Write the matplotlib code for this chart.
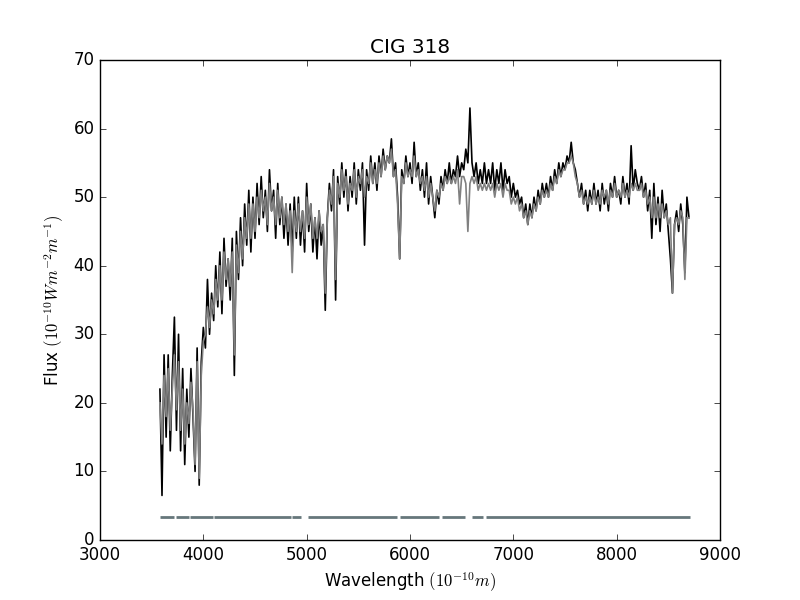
import matplotlib
matplotlib.use("Agg")
import matplotlib.pyplot as plt

# wavelength grid (Angstrom) in 20 A steps
wavelength = [
    3580, 3600, 3620, 3640, 3660, 3680, 3700, 3720, 3740, 3760,
    3780, 3800, 3820, 3840, 3860, 3880, 3900, 3920, 3940, 3960,
    3980, 4000, 4020, 4040, 4060, 4080, 4100, 4120, 4140, 4160,
    4180, 4200, 4220, 4240, 4260, 4280, 4300, 4320, 4340, 4360,
    4380, 4400, 4420, 4440, 4460, 4480, 4500, 4520, 4540, 4560,
    4580, 4600, 4620, 4640, 4660, 4680, 4700, 4720, 4740, 4760,
    4780, 4800, 4820, 4840, 4860, 4880, 4900, 4920, 4940, 4960,
    4980, 5000, 5020, 5040, 5060, 5080, 5100, 5120, 5140, 5160,
    5180, 5200, 5220, 5240, 5260, 5280, 5300, 5320, 5340, 5360,
    5380, 5400, 5420, 5440, 5460, 5480, 5500, 5520, 5540, 5560,
    5580, 5600, 5620, 5640, 5660, 5680, 5700, 5720, 5740, 5760,
    5780, 5800, 5820, 5840, 5860, 5880, 5900, 5920, 5940, 5960,
    5980, 6000, 6020, 6040, 6060, 6080, 6100, 6120, 6140, 6160,
    6180, 6200, 6220, 6240, 6260, 6280, 6300, 6320, 6340, 6360,
    6380, 6400, 6420, 6440, 6460, 6480, 6500, 6520, 6540, 6560,
    6580, 6600, 6620, 6640, 6660, 6680, 6700, 6720, 6740, 6760,
    6780, 6800, 6820, 6840, 6860, 6880, 6900, 6920, 6940, 6960,
    6980, 7000, 7020, 7040, 7060, 7080, 7100, 7120, 7140, 7160,
    7180, 7200, 7220, 7240, 7260, 7280, 7300, 7320, 7340, 7360,
    7380, 7400, 7420, 7440, 7460, 7480, 7500, 7520, 7540, 7560,
    7580, 7600, 7620, 7640, 7660, 7680, 7700, 7720, 7740, 7760,
    7780, 7800, 7820, 7840, 7860, 7880, 7900, 7920, 7940, 7960,
    7980, 8000, 8020, 8040, 8060, 8080, 8100, 8120, 8140, 8160,
    8180, 8200, 8220, 8240, 8260, 8280, 8300, 8320, 8340, 8360,
    8380, 8400, 8420, 8440, 8460, 8480, 8500, 8520, 8540, 8560,
    8580, 8600, 8620, 8640, 8660, 8680, 8700,
]

# observed flux (black)
flux_obs = [
    22, 6.5, 27, 15, 27, 13, 24, 32.5, 16, 30,
    13, 25, 11, 22, 15, 25, 18, 10, 28, 8,
    26, 31, 28, 38, 30, 36, 32, 40, 34, 42,
    33, 44, 37, 41, 35, 44, 24, 45, 38, 47,
    40, 49, 43, 51, 42, 50, 44, 52, 46, 53,
    47, 51, 45, 54, 48, 51, 44, 52, 46, 50,
    44, 49, 43, 49, 42, 50, 44, 50, 43, 48,
    42, 52, 45, 49, 42, 47, 41, 48, 43, 46,
    33.5, 47, 52, 48, 54, 35, 53, 49, 55, 50,
    54, 48, 53, 50, 55, 49, 54, 51, 55, 43,
    54, 51, 56, 52, 55, 51, 56, 53, 57, 54,
    56, 55, 58.5, 53, 55, 50, 41, 54, 52, 56,
    53, 55, 52, 58, 53, 55, 51, 54, 50, 55,
    49, 53, 50, 47, 51, 49, 53, 51, 54, 52,
    55, 52, 54, 53, 56, 53, 55, 54, 57, 55,
    63, 55, 53, 55, 52, 54, 52, 55, 52, 54,
    52, 55, 51, 54, 52, 55, 51, 54, 52, 53,
    50, 52, 50, 51, 49, 50, 47, 49, 46, 49,
    47, 50, 48, 51, 49, 52, 50, 52, 50, 53,
    51, 54, 52, 55, 53, 55, 54, 56, 55, 58,
    55, 54, 52, 50, 52, 49, 51, 48, 51, 49,
    52, 49, 51, 48, 52, 49, 51, 48, 52, 50,
    53, 50, 51, 49, 53, 50, 52, 49, 57.5, 51,
    54, 52, 51, 53, 50, 52, 48, 51, 44, 52,
    46, 50, 45, 51, 47, 49, 45, 41, 36, 46,
    48, 45, 49, 46, 39, 50, 47,
]

# synthetic / model flux (grey)
flux_model = [
    20, 14, 24, 18, 25, 16, 22, 27, 19, 26,
    16, 22, 14, 20, 17, 23, 19, 11, 26, 9,
    24, 29, 30, 34, 31, 35, 33, 38, 35, 40,
    35, 42, 38, 41, 37, 42, 27, 43, 39, 45,
    41, 47, 44, 49, 44, 49, 45, 50, 47, 51,
    48, 50, 46, 52, 48, 50, 46, 51, 47, 50,
    46, 49, 45, 48, 39, 48, 45, 49, 45, 48,
    44, 50, 46, 49, 44, 47, 44, 48, 45, 46,
    36, 47, 51, 49, 53, 38, 52, 50, 54, 51,
    53, 49, 52, 51, 54, 50, 53, 52, 54, 50,
    53, 52, 55, 52, 54, 52, 55, 53, 56, 54,
    56, 55, 57, 53, 54, 49, 41, 53, 52, 55,
    53, 54, 53, 56, 53, 54, 52, 53, 51, 53,
    50, 52, 50, 48, 51, 50, 52, 51, 53, 52,
    53, 52, 53, 52, 54, 49, 53, 53, 52, 45,
    52, 53, 52, 53, 51, 52, 51, 52, 51, 52,
    51, 52, 50, 52, 51, 52, 50, 52, 51, 51,
    49, 50, 49, 50, 48, 49, 47, 48, 46, 48,
    47, 49, 48, 50, 49, 51, 50, 51, 50, 52,
    51, 53, 52, 54, 53, 54, 54, 55, 55, 56,
    55, 53, 52, 50, 51, 49, 50, 49, 50, 49,
    51, 49, 50, 49, 51, 50, 51, 49, 51, 50,
    52, 50, 51, 50, 52, 50, 51, 50, 52, 51,
    52, 51, 51, 52, 50, 51, 49, 50, 47, 50,
    47, 49, 47, 49, 47, 48, 46, 47, 36, 46,
    47, 46, 48, 47, 38, 47, 47,
]

# fitted wavelength ranges drawn as a strip near the bottom
mask_start = [3583, 3734, 3870, 4103, 4854, 5015, 5902, 6306, 6600, 6732]
mask_end = [3716, 3859, 4092, 4846, 4943, 5873, 6285, 6532, 6704, 8707]
mask_level = 3.3

plt.style.use("classic")
fig = plt.figure(figsize=(8, 6), dpi=100)
ax = fig.add_subplot(111)

ax.plot(wavelength, flux_obs, color="k", lw=1.2)
ax.plot(wavelength, flux_model, color="0.5", lw=1.2)
for a, b in zip(mask_start, mask_end):
    ax.plot([a, b], [mask_level, mask_level], color="#66777b", lw=2,
            solid_capstyle="butt")

ax.set_xlim(3000, 9000)
ax.set_ylim(0, 70)
ax.set_title("CIG 318")
ax.set_xlabel(r"Wavelength $(10^{-10} m)$")
ax.set_ylabel(r"Flux $(10^{-10} W m^{-2} m^{-1})$")

fig.savefig("out.png", dpi=100)
